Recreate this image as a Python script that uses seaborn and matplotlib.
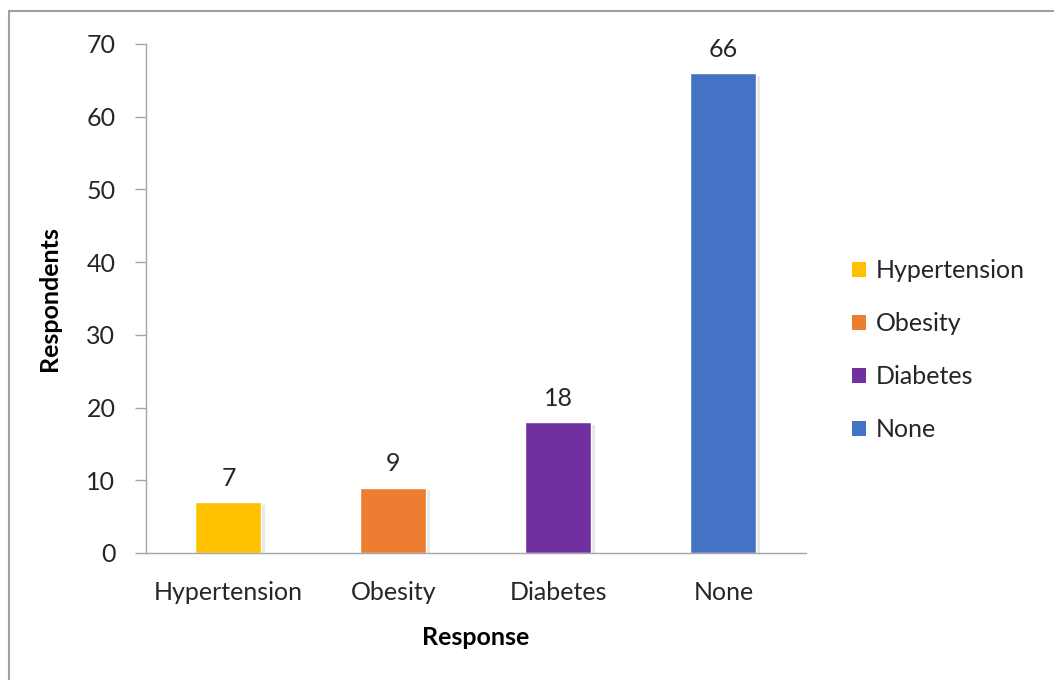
import matplotlib
matplotlib.use("Agg")
import matplotlib.pyplot as plt
import matplotlib.patheffects as pe
from matplotlib.lines import Line2D
from matplotlib.patches import Patch
import seaborn as sns
import pandas as pd

categories = ["Hypertension", "Obesity", "Diabetes", "None"]
respondents = [7, 9, 18, 66]
colors = ["#FFC000", "#ED7D31", "#7030A0", "#4472C4"]
y_ticks = [0, 10, 20, 30, 40, 50, 60, 70]

sns.set_theme(style="white")
plt.rcParams["font.family"] = ["Lato", "DejaVu Sans"]

FS = 18

df = pd.DataFrame({"Response": categories, "Respondents": respondents})

fig = plt.figure(figsize=(10.54, 6.8), dpi=100)
ax = fig.add_axes([0.1385, 0.1868, 0.6262, 0.7485])

sns.barplot(data=df, x="Response", y="Respondents", hue="Response",
            palette=colors, width=0.4, legend=False, ax=ax, saturation=1)

for bar in ax.patches:
    bar.set_path_effects([pe.SimplePatchShadow(offset=(2.5, -2), shadow_rgbFace="#808080", alpha=0.18),
                          pe.Normal()])

for cont in ax.containers:
    ax.bar_label(cont, padding=9, fontsize=FS, color="#262626")

ax.set_ylim(0, 70)
ax.set_yticks(y_ticks)
ax.set_xlim(-0.5, 3.5)
ax.tick_params(axis="y", which="both", left=True, length=8, width=1, color="#a6a6a6",
               labelsize=FS, labelcolor="#262626", pad=14)
ax.tick_params(axis="x", bottom=False, labelsize=FS, labelcolor="#262626", pad=14)

for side in ["top", "right"]:
    ax.spines[side].set_visible(False)
for side in ["left", "bottom"]:
    ax.spines[side].set_color("#a6a6a6")
    ax.spines[side].set_linewidth(1)

ax.set_xlabel("Response", fontsize=FS, fontweight="bold", color="black", labelpad=16)
ax.set_ylabel("Respondents", fontsize=FS, fontweight="bold", color="black", labelpad=18)

handles = [Patch(facecolor=c, edgecolor="none", label=l) for c, l in zip(colors, categories)]
fig.legend(handles=handles, loc="center left", bbox_to_anchor=(0.787, 0.485), frameon=False,
           fontsize=FS, handlelength=0.55, handleheight=0.55, handletextpad=0.4,
           labelspacing=1.2, labelcolor="#262626")

# chart-area frame (top and left edges)
fig.add_artist(Line2D([0.0085, 1.0], [0.984, 0.984], transform=fig.transFigure, color="#a0a0a0", lw=1.5))
fig.add_artist(Line2D([0.0085, 0.0085], [0.0, 0.984], transform=fig.transFigure, color="#a0a0a0", lw=1.5))

fig.savefig("out.png", dpi=100)
